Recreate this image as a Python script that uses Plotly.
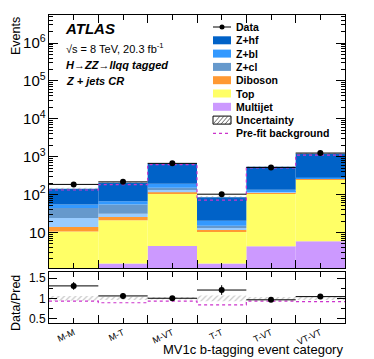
import numpy as np
import plotly.graph_objects as go

# ---- data ----
categories = ["M-M", "M-T", "M-VT", "T-T", "T-VT", "VT-VT"]

multijet = [0.8, 1.5, 4.4, 1.5, 4.3, 5.8]
top = [9.8, 19.3, 99.6, 9.1, 100.7, 239.0]
diboson = [3.3, 4.8, 11.0, 1.2, 9.0, 16.0]
z_l = [10.2, 5.7, 21.0, 1.5, 3.0, 5.0]
z_cl = [20.3, 23.0, 15.0, 1.7, 3.0, 4.0]
z_bl = [9.9, 12.1, 41.0, 5.4, 14.0, 12.0]
z_hf = [87.3, 137.6, 472.0, 64.3, 406.0, 913.0]

data = [185, 216, 665, 102, 520, 1245]
unc_rel = [0.06, 0.04, 0.03, 0.07, 0.03, 0.04]
prefit_ratio = [0.93, 0.89, 0.93, 0.84, 0.93, 0.92]

# stack order, bottom -> top
components = [
    ("Multijet", multijet, "#cc99ff"),
    ("Top", top, "#ffff66"),
    ("Diboson", diboson, "#ff9933"),
    ("Z+l", z_l, "#99ccff"),
    ("Z+cl", z_cl, "#6699cc"),
    ("Z+bl", z_bl, "#3399ff"),
    ("Z+hf", z_hf, "#0062c8"),
]

FONT = "Liberation Sans, Arial, sans-serif"
# the page body has an 8px margin, so the figure is drawn 8px in from the corner
OFF = 8
W, H = 374 - OFF, 359 - OFF
L, R, T, B = 49, 345, 15, 323  # frame edges in window pixels

x = np.arange(len(categories)) + 0.5
edges = np.arange(len(categories) + 1)

fig = go.Figure()

base = np.zeros(len(categories))
for name, vals, col in components:
    vals = np.array(vals, dtype=float)
    fig.add_trace(go.Bar(
        x=x, y=vals, base=base if base.any() else None, width=1.0,
        marker=dict(color=col, line=dict(width=0)), name=name,
        showlegend=False, xaxis="x", yaxis="y", hoverinfo="skip",
    ))
    base = base + vals
total = base

# uncertainty band (main)
err = total * np.array(unc_rel)
fig.add_trace(go.Bar(
    x=x, y=2 * err, base=total - err, width=1.0, showlegend=False,
    marker=dict(color="rgba(0,0,0,0)", line=dict(width=0),
                pattern=dict(shape="/", fgcolor="#777777", bgcolor="rgba(0,0,0,0)",
                             size=4, solidity=0.25)),
    xaxis="x", yaxis="y", hoverinfo="skip",
))

# pre-fit background (main)
prefit = total * np.array(prefit_ratio)
fig.add_trace(go.Scatter(
    x=edges, y=np.append(prefit, prefit[-1]), mode="lines", line_shape="hv",
    line=dict(color="#cc33cc", dash="dot", width=1.2), showlegend=False,
    xaxis="x", yaxis="y",
))

# data (main)
data_arr = np.array(data, dtype=float)
fig.add_trace(go.Scatter(
    x=x, y=data_arr, mode="markers",
    marker=dict(color="black", size=6),
    error_x=dict(type="constant", value=0.5, color="black", thickness=1, width=0),
    error_y=dict(type="data", array=np.sqrt(data_arr), color="black", thickness=1, width=0),
    showlegend=False, xaxis="x", yaxis="y",
))

# ratio panel
fig.add_trace(go.Bar(
    x=x, y=2 * np.array(unc_rel), base=1 - np.array(unc_rel), width=1.0, showlegend=False,
    marker=dict(color="rgba(0,0,0,0)", line=dict(width=0),
                pattern=dict(shape="/", fgcolor="#777777", bgcolor="rgba(0,0,0,0)",
                             size=4, solidity=0.25)),
    xaxis="x2", yaxis="y2", hoverinfo="skip",
))
fig.add_trace(go.Scatter(
    x=edges, y=prefit_ratio + [prefit_ratio[-1]], mode="lines", line_shape="hv",
    line=dict(color="#cc33cc", dash="dot", width=1.2), showlegend=False,
    xaxis="x2", yaxis="y2",
))
fig.add_trace(go.Scatter(
    x=x, y=data_arr / total, mode="markers",
    marker=dict(color="black", size=6),
    error_x=dict(type="constant", value=0.5, color="black", thickness=1, width=0),
    error_y=dict(type="data", array=np.sqrt(data_arr) / total, color="black",
                 thickness=1, width=0),
    showlegend=False, xaxis="x2", yaxis="y2",
))


def px(xp):
    return (xp - L) / (R - L)


def py(yp):
    return (B - yp) / (B - T)


main_bottom = py(268)
ratio_top = py(272)

axis_common = dict(showline=True, linecolor="black", linewidth=1, mirror="allticks",
                   ticks="inside", tickcolor="black", showgrid=False, zeroline=False,
                   automargin=False, tickfont=dict(family=FONT, size=12, color="black"))

fig.update_layout(
    width=W, height=H,
    margin=dict(l=L - OFF, r=374 - R, t=T - OFF, b=359 - B, autoexpand=False),
    paper_bgcolor="white", plot_bgcolor="white", barmode="overlay",
    font=dict(family=FONT, color="black"), showlegend=False,
    xaxis=dict(axis_common, domain=[0, 1], range=[0, 6], anchor="y",
               tickvals=list(x), showticklabels=False, ticklen=5,
               minor=dict(dtick=1, tick0=0, ticks="inside", ticklen=8, tickcolor="black")),
    yaxis=dict(axis_common, domain=[main_bottom, 1], type="log", range=[0.06, 6.74],
               dtick=1, exponentformat="power", ticklen=9,
               minor=dict(ticks="inside", ticklen=4, tickcolor="black", dtick="D1")),
    xaxis2=dict(axis_common, domain=[0, 1], range=[0, 6], anchor="y2", matches="x",
                tickvals=list(x), ticktext=categories, tickangle=-25, ticklen=5,
                tickfont=dict(family=FONT, size=9, color="black"),
                minor=dict(dtick=1, tick0=0, ticks="inside", ticklen=8, tickcolor="black")),
    yaxis2=dict(axis_common, domain=[0, ratio_top], range=[0.39, 1.65],
                tickvals=[0.5, 1, 1.5], ticktext=["0.5", "1", "1.5"], ticklen=8,
                minor=dict(dtick=0.25, tick0=0, ticks="inside", ticklen=4, tickcolor="black")),
)

ann = []
# axis titles
ann.append(dict(text="Events", x=px(16), y=py(15), xref="paper", yref="paper",
                textangle=-90, xanchor="center", yanchor="top", showarrow=False,
                font=dict(size=12.5, family=FONT)))
ann.append(dict(text="Data/Pred", x=px(16), y=py(303), xref="paper", yref="paper",
                textangle=-90, xanchor="center", yanchor="middle", showarrow=False,
                font=dict(size=12.5, family=FONT)))
ann.append(dict(text="MV1c b-tagging event category", x=px(345), y=py(349), xref="paper",
                yref="paper", xanchor="right", yanchor="middle", showarrow=False,
                font=dict(size=13, family=FONT)))
# labels
ann.append(dict(text="<b><i>ATLAS</i></b>", x=px(63), y=py(29), xref="paper", yref="paper",
                xanchor="left", yanchor="middle", showarrow=False, font=dict(size=15, family=FONT)))
ann.append(dict(text="√s = 8 TeV, 20.3 fb<sup>-1</sup>", x=px(64), y=py(48), xref="paper",
                yref="paper", xanchor="left", yanchor="middle", showarrow=False,
                font=dict(size=11, family=FONT)))
ann.append(dict(text="<b><i>H→ZZ→llqq tagged</i></b>", x=px(64), y=py(65), xref="paper",
                yref="paper", xanchor="left", yanchor="middle", showarrow=False,
                font=dict(size=11, family=FONT)))
ann.append(dict(text="<b><i>Z + jets CR</i></b>", x=px(64), y=py(81), xref="paper",
                yref="paper", xanchor="left", yanchor="middle", showarrow=False,
                font=dict(size=11, family=FONT)))

# legend (hand-built, ROOT style)
shapes = []
leg_x0, leg_x1, leg_tx = 213, 231, 234
leg_items = [
    ("Data", "data", None),
    ("Z+hf", "box", "#0062c8"),
    ("Z+bl", "box", "#3399ff"),
    ("Z+cl", "box", "#6699cc"),
    ("Diboson", "box", "#ff9933"),
    ("Top", "box", "#ffff66"),
    ("Multijet", "box", "#cc99ff"),
    ("Uncertainty", "hatch", None),
    ("Pre-fit background", "dash", None),
]
for i, (label, kind, col) in enumerate(leg_items):
    yc = 27 + i * 13.3
    ann.append(dict(text="<b>%s</b>" % label, x=px(leg_tx), y=py(yc), xref="paper", yref="paper",
                    xanchor="left", yanchor="middle", showarrow=False,
                    font=dict(size=10.5, family=FONT)))
    if kind == "box":
        shapes.append(dict(type="rect", xref="paper", yref="paper",
                           x0=px(leg_x0), x1=px(leg_x1), y0=py(yc + 4), y1=py(yc - 4),
                           fillcolor=col, line=dict(width=0)))
    elif kind == "hatch":
        shapes.append(dict(type="rect", xref="paper", yref="paper",
                           x0=px(leg_x0), x1=px(leg_x1), y0=py(yc + 4), y1=py(yc - 4),
                           fillcolor="white", line=dict(width=1, color="black")))
        for k in range(5):
            xa = leg_x0 + 1 + k * 4
            xb = min(xa + 6, leg_x1)
            shapes.append(dict(type="line", xref="paper", yref="paper",
                               x0=px(xa - 1), y0=py(yc + 4), x1=px(xb),
                               y1=py(yc + 4 - (xb - xa + 1) * 8 / 7),
                               line=dict(width=0.8, color="#444444")))
    elif kind == "dash":
        shapes.append(dict(type="line", xref="paper", yref="paper",
                           x0=px(leg_x0), x1=px(leg_x1 - 3), y0=py(yc), y1=py(yc),
                           line=dict(width=1.2, color="#cc33cc", dash="dot")))
    elif kind == "data":
        shapes.append(dict(type="line", xref="paper", yref="paper",
                           x0=px(leg_x0), x1=px(leg_x1), y0=py(yc), y1=py(yc),
                           line=dict(width=1, color="black")))
        shapes.append(dict(type="circle", xref="paper", yref="paper",
                           x0=px(219.5), x1=px(224.5), y0=py(yc + 2.5), y1=py(yc - 2.5),
                           fillcolor="black", line=dict(width=0)))

fig.update_layout(annotations=ann, shapes=shapes)

fig.write_html("out.html")
